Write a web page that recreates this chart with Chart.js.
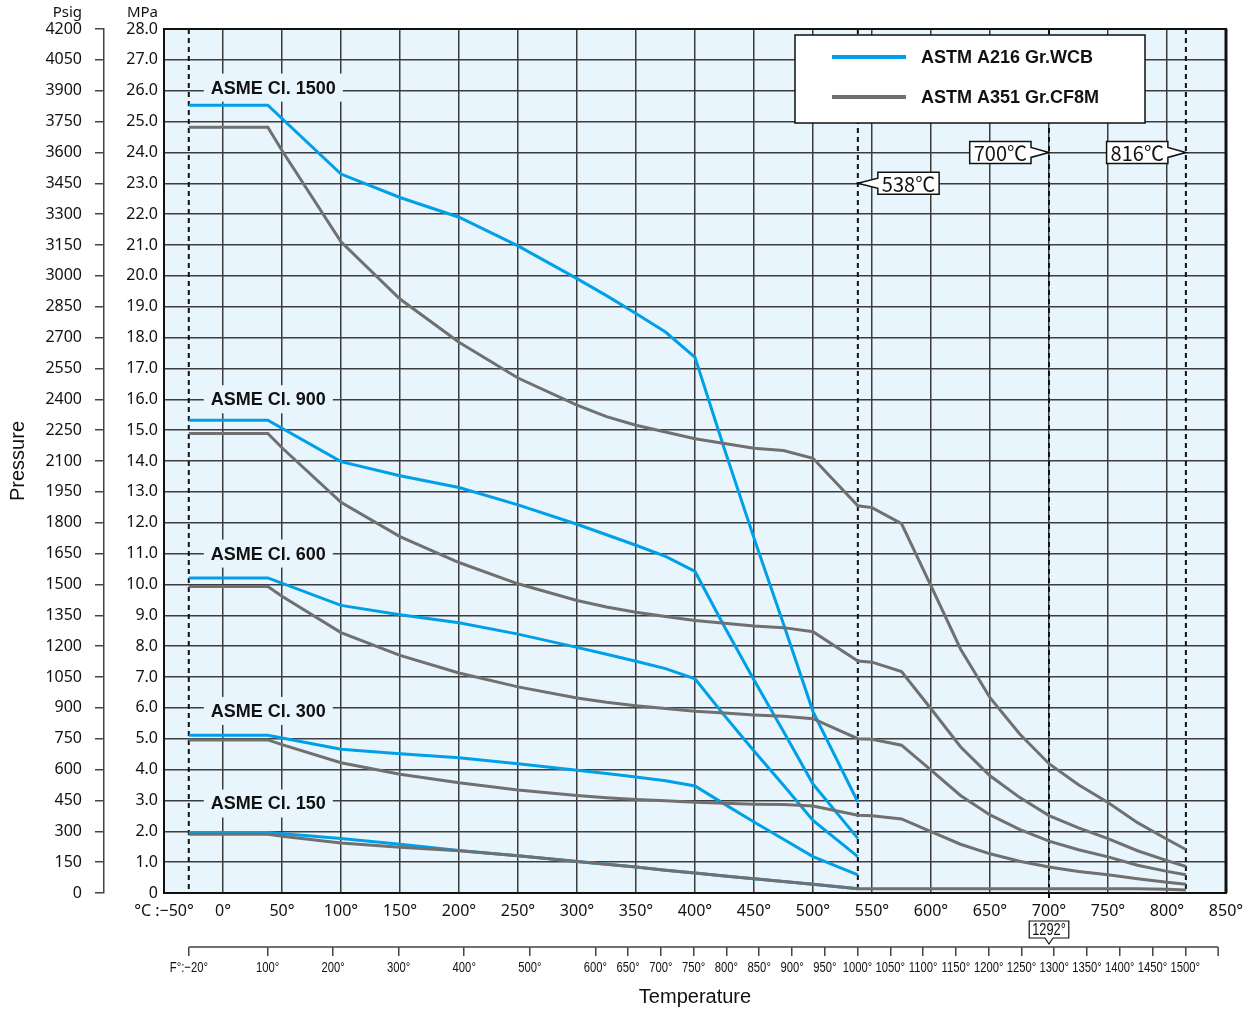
<!DOCTYPE html>
<html>
<head>
<meta charset="utf-8">
<script src="https://cdn.jsdelivr.net/npm/chart.js@4.4.0/dist/chart.umd.min.js"></script>
<style>
  html, body { margin: 0; padding: 0; background: #fff; }
  canvas { display: block; }
</style>
</head>
<body>
<canvas id="ratingChart" width="1260" height="1009"></canvas>
<script>
// temperatures (deg C) of the rating points
const tempWCB = [-29, 38, 100, 150, 200, 250, 300, 325, 350, 375, 400, 425, 450, 475, 500, 538];
const tempCF8M = [-29, 38, 50, 100, 150, 200, 250, 300, 325, 350, 375, 400, 425, 450, 475, 500, 538,
                  550, 575, 600, 625, 650, 675, 700, 725, 750, 775, 800, 816];

// ASTM A216 Gr.WCB, pressure in MPa
const wcb150  = [1.96, 1.96, 1.77, 1.58, 1.38, 1.21, 1.02, 0.93, 0.84, 0.74, 0.65, 0.55, 0.46, 0.37, 0.28, 0.14];
const wcb300  = [5.11, 5.11, 4.66, 4.51, 4.38, 4.19, 3.98, 3.87, 3.76, 3.64, 3.47, 2.88, 2.30, 1.74, 1.18, 0.59];
const wcb600  = [10.21, 10.21, 9.32, 9.02, 8.76, 8.39, 7.96, 7.74, 7.51, 7.27, 6.94, 5.75, 4.60, 3.49, 2.35, 1.18];
const wcb900  = [15.32, 15.32, 13.98, 13.52, 13.14, 12.58, 11.95, 11.61, 11.27, 10.91, 10.42, 8.63, 6.90, 5.23, 3.53, 1.77];
const wcb1500 = [25.53, 25.53, 23.30, 22.54, 21.90, 20.97, 19.91, 19.36, 18.78, 18.18, 17.36, 14.38, 11.50, 8.72, 5.88, 2.95];

// ASTM A351 Gr.CF8M, pressure in MPa
const cf150  = [1.90, 1.90, 1.84, 1.62, 1.48, 1.37, 1.21, 1.02, 0.93, 0.84, 0.74, 0.65, 0.55, 0.46, 0.37, 0.28, 0.14,
                0.14, 0.14, 0.14, 0.14, 0.14, 0.14, 0.14, 0.14, 0.14, 0.14, 0.12, 0.10];
const cf300  = [4.96, 4.96, 4.81, 4.22, 3.85, 3.57, 3.34, 3.16, 3.09, 3.03, 2.99, 2.94, 2.91, 2.88, 2.87, 2.82, 2.52,
                2.50, 2.40, 1.99, 1.58, 1.27, 1.03, 0.84, 0.70, 0.59, 0.46, 0.35, 0.28];
const cf600  = [9.93, 9.93, 9.62, 8.44, 7.70, 7.13, 6.68, 6.32, 6.18, 6.07, 5.98, 5.89, 5.83, 5.77, 5.73, 5.65, 5.00,
                4.98, 4.79, 3.98, 3.16, 2.53, 2.06, 1.68, 1.40, 1.17, 0.90, 0.70, 0.59];
const cf900  = [14.89, 14.89, 14.43, 12.66, 11.55, 10.71, 10.02, 9.48, 9.27, 9.10, 8.96, 8.83, 8.74, 8.65, 8.60, 8.47, 7.52,
                7.48, 7.18, 5.97, 4.74, 3.80, 3.10, 2.51, 2.11, 1.76, 1.37, 1.05, 0.86];
const cf1500 = [24.82, 24.82, 24.06, 21.10, 19.25, 17.85, 16.69, 15.81, 15.44, 15.16, 14.94, 14.72, 14.57, 14.41, 14.34, 14.09, 12.55,
                12.49, 11.97, 9.95, 7.91, 6.33, 5.16, 4.19, 3.51, 2.93, 2.28, 1.74, 1.41];

const materials = ['ASTM A216 Gr.WCB', 'ASTM A351 Gr.CF8M'];
const classNames = ['ASME Cl. 150', 'ASME Cl. 300', 'ASME Cl. 600', 'ASME Cl. 900', 'ASME Cl. 1500'];
const classLabelMPa = [2.9, 5.9, 11.0, 16.0, 26.1];

// axis ticks
const mpaRange = [0, 28];
const psigRange = [0, 4200];
const celsiusRange = [-50, 850];
const fahrenheitRange = [-58, 1562];
const fTicks = [-20, 100, 200, 300, 400, 500, 600, 650, 700, 750, 800, 850, 900, 950, 1000,
                1050, 1100, 1150, 1200, 1250, 1300, 1350, 1400, 1450, 1500];
const fAxisEnd = 1550;

// limit temperatures and their tags
const limitTemps = [-29, 538, 700, 816];
const limitTags = [
  { c: 538, mpa: 23, text: '538℃', side: 'left' },
  { c: 700, mpa: 24, text: '700℃', side: 'right' },
  { c: 816, mpa: 24, text: '816℃', side: 'right' }
];
const fTag = { c: 700, text: '1292°' };

const BLUE = '#00a0e9';
const GRAY = '#707070';
const PLOT_BG = '#e8f5fd';
const GRID = '#3d3d3d';
const SANS = '"Liberation Sans", Arial, sans-serif';

const fLabel = v => v === fTicks[0] ? 'F°:−20°' : v + '°';

const datasets = [];
[wcb150, wcb300, wcb600, wcb900, wcb1500].forEach((vals, i) => {
  datasets.push({
    label: materials[0] + ' ' + classNames[i],
    data: tempWCB.map((t, k) => ({ x: t, y: vals[k] })),
    borderColor: BLUE, borderWidth: 3, pointRadius: 0, tension: 0, fill: false, order: 1
  });
});
[cf150, cf300, cf600, cf900, cf1500].forEach((vals, i) => {
  datasets.push({
    label: materials[1] + ' ' + classNames[i],
    data: tempCF8M.map((t, k) => ({ x: t, y: vals[k] })),
    borderColor: GRAY, borderWidth: 3, pointRadius: 0, tension: 0, fill: false, order: 0
  });
});

const decor = {
  id: 'decor',
  beforeDraw(chart) {
    const { ctx, chartArea: a } = chart;
    ctx.save();
    ctx.fillStyle = PLOT_BG;
    ctx.fillRect(a.left, a.top, a.right - a.left, a.bottom - a.top);
    ctx.restore();
  },
  beforeDatasetsDraw(chart) {
    const { ctx, chartArea: a, scales: { x, y } } = chart;
    ctx.save();
    // dashed limit lines
    ctx.strokeStyle = '#111';
    ctx.lineWidth = 2;
    ctx.setLineDash([5, 4]);
    limitTemps.forEach(t => {
      const px = x.getPixelForValue(t);
      ctx.beginPath();
      ctx.moveTo(px, a.top);
      ctx.lineTo(px, a.bottom + (t === 700 ? 5 : 0));
      ctx.stroke();
    });
    ctx.setLineDash([]);
    // class labels, knocked out of the grid
    ctx.font = 'bold 18px ' + SANS;
    ctx.textBaseline = 'middle';
    ctx.textAlign = 'left';
    const lx = x.getPixelForValue(-29) + 22;
    classNames.forEach((name, i) => {
      const py = y.getPixelForValue(classLabelMPa[i]);
      const w = ctx.measureText(name).width;
      ctx.fillStyle = PLOT_BG;
      ctx.fillRect(lx - 7, py - 14, w + 14, 28);
      ctx.fillStyle = '#111';
      ctx.fillText(name, lx, py + 1);
    });
    ctx.restore();
  },
  afterDatasetsDraw(chart) {
    const { ctx, chartArea: a, scales: { x, y } } = chart;
    ctx.save();
    // plot frame
    ctx.strokeStyle = '#111';
    ctx.lineWidth = 2;
    ctx.strokeRect(a.left, a.top, a.right - a.left, a.bottom - a.top);
    ctx.lineWidth = 3;
    ctx.beginPath();
    ctx.moveTo(a.right, a.top);
    ctx.lineTo(a.right, a.bottom);
    ctx.stroke();

    // legend
    const lgX = a.right - 431, lgY = a.top + 6;
    ctx.fillStyle = '#fff';
    ctx.fillRect(lgX, lgY, 350, 88);
    ctx.lineWidth = 1.5;
    ctx.strokeStyle = '#111';
    ctx.strokeRect(lgX, lgY, 350, 88);
    ctx.font = 'bold 18px ' + SANS;
    ctx.textBaseline = 'middle';
    [BLUE, GRAY].forEach((col, i) => {
      const ly = lgY + 22 + i * 40;
      ctx.strokeStyle = col;
      ctx.lineWidth = 4;
      ctx.beginPath();
      ctx.moveTo(lgX + 37, ly);
      ctx.lineTo(lgX + 111, ly);
      ctx.stroke();
      ctx.fillStyle = '#111';
      ctx.fillText(materials[i], lgX + 126, ly + 1);
    });

    // limit temperature tags
    ctx.font = '20px "Noto Sans CJK JP", "Noto Sans", sans-serif';
    ctx.textAlign = 'center';
    limitTags.forEach(tag => {
      const tx = x.getPixelForValue(tag.c), ty = y.getPixelForValue(tag.mpa);
      const w = ctx.measureText(tag.text).width + 8, h = 22;
      const left = tag.side === 'left' ? tx + 20 : tx - 18 - w;
      const right = left + w, top = ty - h / 2, bottom = ty + h / 2;
      ctx.beginPath();
      if (tag.side === 'left') {
        ctx.moveTo(left, ty - 5); ctx.lineTo(left, top); ctx.lineTo(right, top);
        ctx.lineTo(right, bottom); ctx.lineTo(left, bottom); ctx.lineTo(left, ty + 5);
      } else {
        ctx.moveTo(right, ty - 5); ctx.lineTo(right, top); ctx.lineTo(left, top);
        ctx.lineTo(left, bottom); ctx.lineTo(right, bottom); ctx.lineTo(right, ty + 5);
      }
      ctx.lineTo(tx, ty);
      ctx.closePath();
      ctx.fillStyle = '#fff';
      ctx.fill();
      ctx.strokeStyle = '#111';
      ctx.lineWidth = 1.5;
      ctx.stroke();
      ctx.fillStyle = '#111';
      ctx.fillText(tag.text, (left + right) / 2, ty + 1);
    });
    ctx.restore();
  },
  afterDraw(chart) {
    const { ctx, chartArea: a, scales: { x, y, xF, yPsig } } = chart;
    ctx.save();
    // Fahrenheit axis line
    const fy = xF.top;
    ctx.strokeStyle = '#444';
    ctx.lineWidth = 1.5;
    ctx.beginPath();
    ctx.moveTo(xF.getPixelForValue(fTicks[0]), fy);
    ctx.lineTo(xF.getPixelForValue(fAxisEnd), fy);
    ctx.moveTo(xF.getPixelForValue(fAxisEnd), fy);
    ctx.lineTo(xF.getPixelForValue(fAxisEnd), fy + 9);
    ctx.stroke();

    // Fahrenheit tick labels, in a condensed face
    ctx.fillStyle = '#111';
    ctx.textAlign = 'center';
    ctx.textBaseline = 'middle';
    ctx.font = '15px ' + SANS;
    const squeeze = 0.75;
    fTicks.forEach(v => {
      const px = xF.getPixelForValue(v);
      ctx.save();
      ctx.translate(px, fy + 21);
      ctx.scale(squeeze, 1);
      ctx.fillText(fLabel(v), 0, 0);
      ctx.restore();
    });

    // 1292 F tag
    ctx.font = '16px ' + SANS;
    const tx = x.getPixelForValue(fTag.c);
    const w = ctx.measureText(fTag.text).width * 0.8 + 6, h = 17;
    const bottom = fy - 9, top = bottom - h, left = tx - w / 2, right = tx + w / 2;
    ctx.beginPath();
    ctx.moveTo(tx - 4, bottom); ctx.lineTo(left, bottom); ctx.lineTo(left, top);
    ctx.lineTo(right, top); ctx.lineTo(right, bottom); ctx.lineTo(tx + 4, bottom);
    ctx.lineTo(tx, fy - 3);
    ctx.closePath();
    ctx.fillStyle = '#fff';
    ctx.fill();
    ctx.strokeStyle = '#111';
    ctx.lineWidth = 1.2;
    ctx.stroke();
    ctx.fillStyle = '#111';
    ctx.save();
    ctx.translate(tx, (top + bottom) / 2 + 1);
    ctx.scale(0.8, 1);
    ctx.fillText(fTag.text, 0, 0);
    ctx.restore();

    // unit headers above the pressure columns
    ctx.font = '15px "Noto Sans", sans-serif';
    ctx.textAlign = 'right';
    ctx.fillText('Psig', yPsig.right - 22, a.top - 16);
    ctx.fillText('MPa', y.right - 6, a.top - 16);
    ctx.restore();
  }
};

Chart.defaults.font.family = '"Noto Sans", sans-serif';
Chart.defaults.font.size = 16;
Chart.defaults.color = '#111';

new Chart(document.getElementById('ratingChart').getContext('2d'), {
  type: 'line',
  data: { datasets },
  options: {
    responsive: false,
    animation: false,
    devicePixelRatio: 1,
    layout: { padding: { left: 0, top: 29, right: 34, bottom: 0 } },
    plugins: { legend: { display: false }, tooltip: { enabled: false } },
    scales: {
      x: {
        type: 'linear', position: 'bottom', weight: 0,
        min: celsiusRange[0], max: celsiusRange[1],
        ticks: {
          stepSize: 50, autoSkip: false, maxRotation: 0, padding: 9,
          callback: v => v === celsiusRange[0] ? '°C :−50°' : v + '°'
        },
        grid: { color: GRID, lineWidth: 1.5, drawTicks: false },
        border: { display: false },
        afterFit: s => { s.height = 54; }
      },
      xF: {
        type: 'linear', position: 'bottom', weight: 1,
        min: fahrenheitRange[0], max: fahrenheitRange[1],
        afterBuildTicks: s => { s.ticks = fTicks.map(v => ({ value: v })); },
        ticks: { display: false, autoSkip: false },
        grid: { drawOnChartArea: false, drawTicks: true, tickLength: 9, color: '#444', lineWidth: 1.5 },
        border: { display: false },
        title: {
          display: true, text: 'Temperature', padding: { top: 0, bottom: 0 },
          font: { family: SANS, size: 20 }
        },
        afterFit: s => { s.height = 62; }
      },
      y: {
        type: 'linear', position: 'left', weight: 0,
        min: mpaRange[0], max: mpaRange[1],
        ticks: {
          stepSize: 1, autoSkip: false, padding: 6,
          callback: v => v === 0 ? '0' : v.toFixed(1)
        },
        grid: { color: GRID, lineWidth: 1.5, drawTicks: false },
        border: { display: false },
        afterFit: s => { s.width = 60; }
      },
      yPsig: {
        type: 'linear', position: 'left', weight: 1,
        min: psigRange[0], max: psigRange[1],
        ticks: { stepSize: 150, autoSkip: false, padding: 13, callback: v => String(v) },
        grid: { drawOnChartArea: false, drawTicks: true, tickLength: 9, color: '#444', lineWidth: 1.5 },
        border: { display: true, color: '#444', width: 1.5 },
        title: {
          display: true, text: 'Pressure', padding: { top: 6, bottom: 0 },
          font: { family: SANS, size: 20 }
        },
        afterFit: s => { s.width = 104; }
      }
    }
  },
  plugins: [decor]
});
</script>
</body>
</html>
